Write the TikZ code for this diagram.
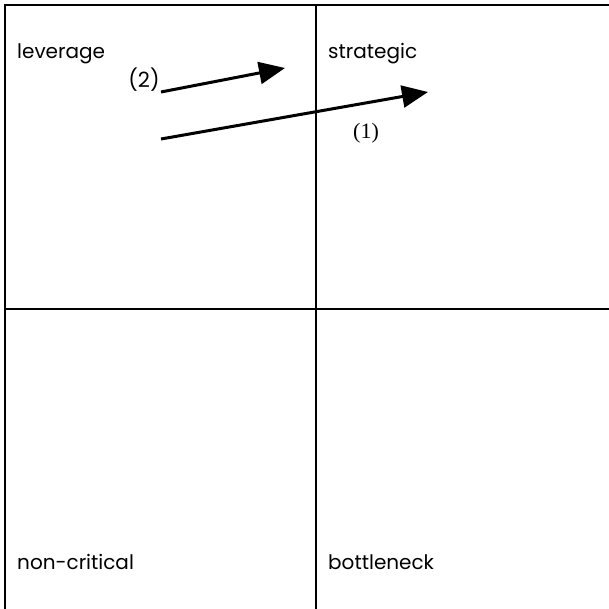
\documentclass[tikz,border=0pt]{standalone}
\usepackage{fontspec}
\setmainfont{Poppins}
\newfontfamily\serifnum{Liberation Serif}
\usetikzlibrary{arrows.meta}
\tikzset{
  gridline/.style={line width=2pt, black},
  quadlabel/.style={anchor=base west, inner sep=0pt, font=\fontsize{20}{20}\selectfont},
  movearrow/.style={line width=3pt, -{Triangle[length=26pt,width=22pt]}}
}
\begin{document}
\begin{tikzpicture}[x=1pt,y=-1pt]
\useasboundingbox (0,0) rectangle (609,608);
\begin{scope}
\clip (0,0) rectangle (609,608);
\draw[gridline] (5,700) -- (5,5) -- (700,5);
\draw[gridline] (316,5) -- (316,700);
\draw[gridline] (5,309) -- (700,309);
\end{scope}
\node[quadlabel] (lev) at (17,58) {leverage};
\node[quadlabel] (str) at (328,58) {strategic};
\node[quadlabel] (non) at (17,569) {non-critical};
\node[quadlabel] (bot) at (328,569) {bottleneck};
\coordinate (s2) at (161,92);
\coordinate (e2) at (285,68);
\coordinate (s1) at (161,139);
\coordinate (e1) at (428,92);
\draw[movearrow] (s2) -- (e2);
\draw[movearrow] (s1) -- (e1);
\node[inner sep=0pt, font=\fontsize{21}{21}\selectfont] (l2) at (144,80) {(2)};
\node[inner sep=0pt, font=\serifnum\fontsize{22}{22}\selectfont] (l1) at (366,133) {(1)};
\end{tikzpicture}
\end{document}
